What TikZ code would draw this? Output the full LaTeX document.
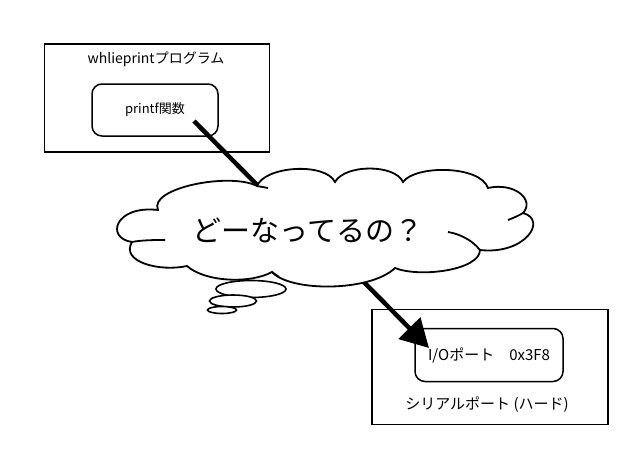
\documentclass[tikz,border=0pt]{standalone}
\usepackage{fontspec}
\setmainfont{Noto Sans CJK JP}
\usetikzlibrary{arrows.meta,shapes.geometric}

\begin{document}
\begin{tikzpicture}[x=1pt, y=-1pt, every node/.style={align=center, font=\fontsize{13}{15}\selectfont}]
  \useasboundingbox (0,0) rectangle (640,453);
  \node[draw, line width=1.8pt, minimum width=225pt, minimum height=108pt] (prog) at (157,98) {};
  \node[font=\fontsize{14}{16}\selectfont] (progname) at (156,59) {whlieprintプログラム};
  \node[draw, rounded corners=10pt, line width=1.5pt, minimum width=126pt, minimum height=52pt] (printf) at (155,110) {printf関数};
  \node[draw, line width=1.8pt, minimum width=236pt, minimum height=115pt] (port) at (490,367) {};
  \node[draw, rounded corners=10pt, line width=1.5pt, minimum width=148pt, minimum height=53pt, font=\fontsize{15}{17}\selectfont] (io) at (489,355) {I/Oポート　0x3F8};
  \node[font=\fontsize{15}{17}\selectfont] (portname) at (487,405) {シリアルポート (ハード)};
  \coordinate (s1) at (194,121);
  \coordinate (c1) at (270,198);
  \coordinate (c2) at (350,268);
  \coordinate (tip) at (429,348);
  \draw[line width=4.5pt] (s1) -- (c1);
  \draw[line width=4.5pt, -{Triangle[length=28pt,width=30pt]}] (c2) -- (tip);
  % cloud
  \draw[line width=1.8pt, fill=white]
    (158,210) .. controls (148,188) and (230,172) .. (257,186)
    .. controls (265,166) and (325,162) .. (335,182)
    .. controls (345,164) and (395,164) .. (403,182)
    .. controls (415,165) and (480,165) .. (488,188)
    .. controls (515,182) and (535,200) .. (523,213)
    .. controls (548,220) and (525,255) .. (480,250)
    .. controls (480,270) and (420,278) .. (395,268)
    .. controls (370,292) and (290,292) .. (272,272)
    .. controls (250,284) and (205,282) .. (187,266)
    .. controls (160,272) and (120,262) .. (132,242)
    .. controls (105,238) and (115,205) .. cycle;
  \draw[line width=1.8pt] (132,242) .. controls (142,240) and (155,240) .. (165,240);
  \draw[line width=1.8pt] (257,186) -- (268,188);
  \draw[line width=1.8pt] (523,213) .. controls (518,216) and (513,218) .. (508,220);
  \draw[line width=1.8pt] (480,250) .. controls (472,240) and (460,234) .. (448,232);
  \draw[line width=1.8pt] (272,272) -- (279,277);
  \node[font=\fontsize{29}{32}\selectfont] (what) at (308,230) {どーなってるの？};
  \node[ellipse, draw, fill=white, line width=1.6pt, minimum width=70pt, minimum height=17pt, inner sep=0pt] (b1) at (251,289) {};
  \node[ellipse, draw, fill=white, line width=1.6pt, minimum width=47pt, minimum height=12pt, inner sep=0pt] (b2) at (233,301) {};
  \node[ellipse, draw, fill=white, line width=1.6pt, minimum width=29pt, minimum height=7pt, inner sep=0pt] (b3) at (222,310) {};
\end{tikzpicture}
\end{document}
